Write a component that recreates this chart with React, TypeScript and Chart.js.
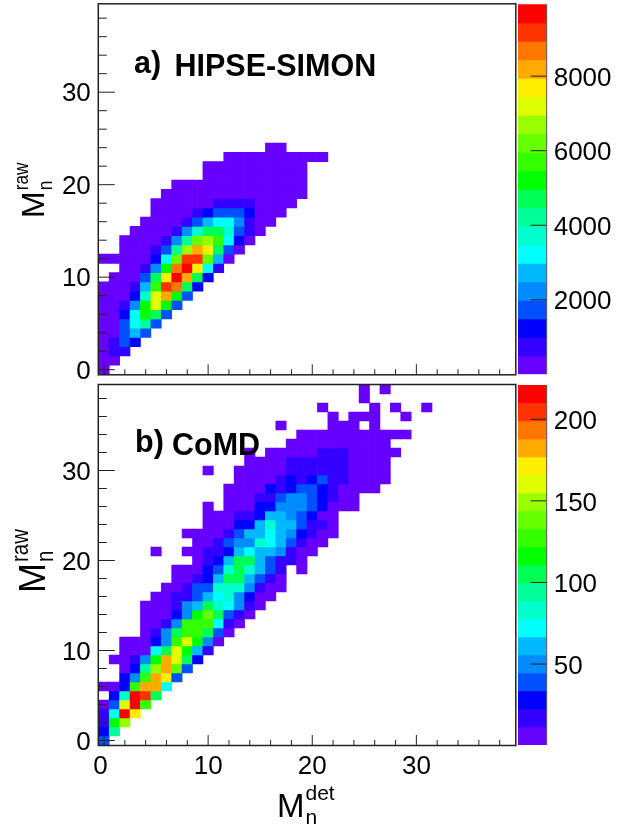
import { useEffect, useRef } from "react";
import { Chart, registerables } from "chart.js";
Chart.register(...registerables);

const FONT = '"Liberation Sans", Arial, sans-serif';

// colour levels, lowest to highest
const palette = [
  "#6600ff", "#3300ff", "#0000ff", "#0050ff", "#008cff", "#00b9ff", "#00ffff",
  "#00ffcc", "#00ff99", "#00ff55", "#00ff00", "#33ff00", "#66ff00", "#99ff00",
  "#ddff00", "#ffee00", "#ffaa00", "#ff7700", "#ff3300", "#ff0000",
];

const binTicks = [0, 2, 4, 6, 8, 10, 12, 14, 16, 18, 20, 22, 24, 26, 28, 30, 32, 34, 36, 38];
const zTicksA = [2000, 4000, 6000, 8000];
const zTicksB = [50, 100, 150, 200];
const zRangeA = [1, 9928];
const zRangeB = [0.4, 221];

// each row: [Mraw bin, first Mdet bin, counts...]
const rowsA = [
  [0, 0, 250],
  [1, 0, 250, 250],
  [2, 0, 250, 750, 750],
  [3, 0, 250, 750, 1750, 1250],
  [4, 0, 250, 250, 1750, 2750, 1750],
  [5, 0, 250, 250, 1750, 3250, 4250, 1750],
  [6, 0, 250, 250, 1250, 3250, 5250, 4750, 1750],
  [7, 0, 250, 250, 750, 2250, 5250, 7250, 5250, 1750],
  [8, 0, 250, 250, 250, 1250, 3750, 7250, 8250, 5250, 1750],
  [9, 0, 250, 250, 250, 750, 2750, 5750, 9250, 8750, 4750, 1250],
  [10, 1, 250, 250, 250, 1750, 4750, 7750, 9750, 8250, 4750, 1250],
  [11, 2, 250, 250, 750, 2250, 5250, 8750, 9750, 7750, 3250, 750],
  [12, 0, 250, 250, 250, 250, 250, 1250, 3250, 6250, 9250, 9250, 6250, 2750, 250],
  [13, 2, 250, 250, 250, 750, 1750, 4250, 6750, 8250, 7750, 4750, 1750, 250],
  [14, 2, 250, 250, 250, 250, 750, 2250, 4250, 6250, 6750, 5750, 3250, 1250, 250],
  [15, 3, 250, 250, 250, 250, 750, 2250, 3750, 4750, 4750, 3750, 1750, 750, 250],
  [16, 4, 250, 250, 250, 250, 750, 1750, 2750, 3250, 3250, 2250, 750, 250, 250],
  [17, 5, 250, 250, 250, 250, 750, 1250, 1750, 1750, 1750, 1250, 250, 250, 250],
  [18, 5, 250, 250, 250, 250, 250, 250, 750, 750, 750, 750, 250, 250, 250, 250],
  [19, 6, 250, 250, 250, 250, 250, 250, 250, 250, 250, 250, 250, 250, 250, 250],
  [20, 7, 250, 250, 250, 250, 250, 250, 250, 250, 250, 250, 250, 250, 250],
  [21, 10, 250, 250, 250, 250, 250, 250, 250, 250, 250, 250],
  [22, 10, 250, 250, 250, 250, 250, 250, 250, 250, 250, 250],
  [23, 12, 250, 250, 250, 250, 250, 250, 250, 250, 250, 250],
  [24, 16, 250, 250],
];

const rowsB = [
  [0, 0, 39],
  [1, 0, 28, 94],
  [2, 0, 17, 116, 149],
  [3, 0, 17, 72, 215, 171],
  [4, 0, 6, 39, 160, 215, 127],
  [5, 1, 28, 83, 215, 204, 105],
  [6, 0, 6, 6, 28, 127, 182, 182, 72],
  [7, 2, 28, 50, 127, 182, 171, 39],
  [8, 2, 6, 28, 94, 149, 182, 138, 39],
  [9, 1, 6, 6, 17, 50, 116, 182, 160, 105, 28],
  [10, 2, 6, 6, 6, 72, 105, 160, 116, 61, 17],
  [11, 2, 6, 6, 6, 28, 50, 127, 160, 116, 50, 6],
  [12, 4, 6, 17, 50, 105, 127, 127, 105, 39, 6],
  [13, 4, 6, 6, 17, 50, 127, 127, 127, 72, 17, 6],
  [14, 4, 6, 6, 6, 28, 50, 116, 138, 105, 39, 17, 6],
  [15, 4, 6, 6, 6, 17, 50, 61, 105, 83, 72, 50, 17, 6],
  [16, 5, 6, 6, 17, 17, 39, 61, 72, 83, 50, 28, 6, 6],
  [17, 6, 6, 6, 17, 39, 39, 83, 83, 83, 50, 17, 6, 6],
  [18, 7, 6, 6, 17, 28, 61, 105, 105, 61, 39, 17, 6],
  [19, 7, 6, 6, 6, 28, 39, 83, 105, 83, 61, 39, 17],
  [19, 19, 6],
  [20, 9, 6, 17, 28, 61, 105, 105, 61, 39, 17, 17, 6],
  [21, 5, 2],
  [21, 8, 6, 6, 17, 17, 28, 61, 72, 61, 61, 50, 17, 6, 6],
  [22, 9, 6, 6, 17, 39, 50, 50, 83, 72, 61, 39, 17, 6, 6],
  [23, 8, 6, 6, 6, 6, 17, 39, 61, 61, 72, 61, 50, 28, 17, 6, 6],
  [24, 10, 6, 6, 6, 28, 28, 61, 83, 61, 61, 39, 17, 17, 6],
  [25, 10, 6, 6, 6, 17, 17, 28, 61, 61, 50, 39, 28, 6, 6],
  [26, 10, 4],
  [26, 12, 6, 6, 6, 28, 28, 50, 50, 50, 39, 28, 6, 6, 6],
  [27, 12, 6, 6, 6, 17, 17, 39, 50, 50, 39, 28, 17, 6, 6],
  [28, 12, 6, 6, 6, 6, 28, 17, 28, 39, 39, 28, 17, 6, 6, 6, 6],
  [29, 13, 6, 6, 6, 6, 17, 28, 17, 28, 39, 17, 17, 6, 6, 6, 6],
  [30, 10, 3],
  [30, 13, 6, 6, 6, 6, 6, 17, 17, 17, 17, 17, 17, 6, 6, 6, 6],
  [31, 14, 6, 6, 6, 6, 17, 17, 17, 17, 17, 17, 6, 6, 6, 6],
  [32, 14, 4],
  [32, 16, 6, 6, 6, 6, 6, 17, 17, 17, 6, 6, 6, 6, 6],
  [33, 18, 6, 6, 6, 6, 6, 6, 6, 6, 6, 6],
  [34, 19, 6, 6, 6, 6, 6, 6, 6, 6, 6, 6, 6],
  [35, 17, 2],
  [35, 22, 4, 4, 4],
  [35, 26, 4],
  [36, 22, 4],
  [36, 24, 4, 4, 4],
  [36, 29, 2],
  [37, 21, 2],
  [37, 26, 3],
  [37, 28, 2],
  [37, 31, 2],
  [38, 25, 2],
  [39, 25, 2],
  [39, 27, 2],
];

const colourFor = (v: number, range: number[]) =>
  palette[Math.min(palette.length - 1, Math.floor(((v - range[0]) / (range[1] - range[0])) * palette.length))];

const flattenRows = (rows: number[][]) => {
  const cells: { x: number; y: number[]; v: number }[] = [];
  rows.forEach(([row, first, ...counts]) => {
    counts.forEach((v, k) => cells.push({ x: first + k, y: [row - 0.5, row + 0.5], v }));
  });
  return cells;
};

type MathLabel = { x: number; y: number; size: number; sup: string; small: number; squeeze: number; supDy: number; subDy: number; vertical: boolean };

function drawAxisTitle(ctx: CanvasRenderingContext2D, t: MathLabel) {
  ctx.save();
  ctx.translate(t.x, t.y);
  if (t.vertical) ctx.rotate(-Math.PI / 2);
  ctx.fillStyle = "#000";
  ctx.textAlign = "left";
  ctx.textBaseline = "alphabetic";
  ctx.font = `${t.size}px ${FONT}`;
  ctx.fillText("M", 0, 0);
  const w = ctx.measureText("M").width + 1;
  ctx.font = `${t.small}px ${FONT}`;
  ctx.translate(w, 0);
  ctx.scale(t.squeeze, 1);
  ctx.fillText(t.sup, 0, t.supDy);
  ctx.fillText("n", 0, t.subDy);
  ctx.restore();
}

type Note = { text: string; x: number; y: number };

const heatConfig = (
  rows: number[][],
  range: number[],
  opts: { top: number; xHeight: number; showX: boolean; notes: Note[]; titles: MathLabel[] },
) => {
  const cells = flattenRows(rows);
  return {
    type: "bar" as const,
    data: {
      datasets: [
        {
          data: cells as any,
          backgroundColor: cells.map((c) => colourFor(c.v, range)),
          borderWidth: 0,
          barPercentage: 1,
          categoryPercentage: 1,
          grouped: false,
        },
      ],
    },
    options: {
      animation: false as const,
      responsive: false,
      layout: { padding: { top: opts.top, left: 0, right: 4.7, bottom: 0 } },
      plugins: { legend: { display: false }, tooltip: { enabled: false } },
      scales: {
        x: {
          type: "linear" as const,
          min: -0.5,
          max: 39.5,
          offset: false,
          bounds: "data" as const,
          grid: { display: false, offset: false, drawTicks: false },
          border: { display: false },
          ticks: {
            display: opts.showX,
            autoSkip: false,
            maxRotation: 0,
            minRotation: 0,
            padding: 6,
            color: "#000",
            font: { family: FONT, size: 26 },
            // the reference sets its "0" slightly left of the tick
            callback: (v: any) => (Number(v) === 0 ? "0\u00a0" : Number(v) % 10 === 0 ? String(v) : ""),
          },
          afterBuildTicks: (s: any) => {
            s.ticks = binTicks.map((value) => ({ value }));
          },
          afterFit: (s: any) => {
            s.height = opts.xHeight;
            s.paddingLeft = s.paddingRight = 0;
          },
        },
        y: {
          type: "linear" as const,
          min: -0.5,
          max: 39.5,
          bounds: "data" as const,
          grid: { display: false, drawTicks: false },
          border: { display: false },
          ticks: {
            autoSkip: false,
            padding: 8,
            labelOffset: 2,
            color: "#000",
            font: { family: FONT, size: 26 },
            callback: (v: any) => (Number(v) % 10 === 0 ? String(v) : ""),
          },
          afterBuildTicks: (s: any) => {
            s.ticks = binTicks.map((value) => ({ value }));
          },
          afterFit: (s: any) => {
            s.width = 98.8;
            s.paddingTop = s.paddingBottom = 0;
          },
        },
      },
    },
    plugins: [
      {
        id: "frameAndNotes",
        afterDatasetsDraw(chart: any) {
          const { ctx, chartArea: a, scales } = chart;
          ctx.save();
          ctx.strokeStyle = "#222";
          ctx.lineWidth = 1.5;
          ctx.strokeRect(a.left - 0.5, a.top - 0.5, a.right - a.left + 1, a.bottom - a.top + 1);
          ctx.lineWidth = 1;
          ctx.strokeStyle = "#222";
          scales.x.ticks.forEach((t: any) => {
            const px = scales.x.getPixelForValue(t.value);
            const len = t.value % 10 === 0 ? 10 : 5;
            ctx.beginPath();
            ctx.moveTo(px, a.bottom);
            ctx.lineTo(px, a.bottom - len);
            ctx.stroke();
          });
          scales.y.ticks.forEach((t: any) => {
            const py = scales.y.getPixelForValue(t.value);
            const len = t.value % 10 === 0 ? 16 : 8;
            ctx.beginPath();
            ctx.moveTo(a.left, py);
            ctx.lineTo(a.left + len, py);
            ctx.stroke();
          });
          ctx.fillStyle = "#000";
          ctx.textAlign = "left";
          ctx.textBaseline = "alphabetic";
          ctx.font = `bold 30.5px ${FONT}`;
          opts.notes.forEach((n) => ctx.fillText(n.text, n.x, n.y));
          ctx.restore();
          opts.titles.forEach((t) => drawAxisTitle(ctx, t));
        },
      },
    ],
  };
};

const barConfig = (range: number[], zTicks: number[], top: number, height: number) => {
  const step = (range[1] - range[0]) / palette.length;
  const levels = palette.map((c, i) => ({ x: 0, y: [range[0] + i * step, range[0] + (i + 1) * step] }));
  return {
    type: "bar" as const,
    data: {
      datasets: [
        {
          data: levels as any,
          backgroundColor: palette,
          borderWidth: 0,
          barPercentage: 1,
          categoryPercentage: 1,
          grouped: false,
        },
      ],
    },
    options: {
      animation: false as const,
      responsive: false,
      layout: { padding: { top, left: 0, right: 0, bottom: 0 } },
      plugins: { legend: { display: false }, tooltip: { enabled: false } },
      scales: {
        x: {
          type: "linear" as const,
          min: -0.5,
          max: 0.5,
          offset: false,
          bounds: "data" as const,
          display: true,
          grid: { display: false, offset: false, drawTicks: false },
          border: { display: false },
          ticks: { display: false },
          afterFit: (s: any) => {
            s.height = height;
            s.paddingLeft = s.paddingRight = 0;
          },
        },
        y: {
          type: "linear" as const,
          position: "right" as const,
          min: range[0],
          max: range[1],
          bounds: "data" as const,
          grid: { display: false, drawTicks: false },
          border: { display: false },
          ticks: {
            autoSkip: false,
            padding: 7,
            labelOffset: 2.5,
            color: "#000",
            font: { family: FONT, size: 26 },
            callback: (v: any) => String(v),
          },
          afterBuildTicks: (s: any) => {
            s.ticks = zTicks.map((value) => ({ value }));
          },
          afterFit: (s: any) => {
            s.width = 91.3;
            s.paddingTop = s.paddingBottom = 0;
          },
        },
      },
    },
    plugins: [
      {
        id: "barTicks",
        afterDatasetsDraw(chart: any) {
          const { ctx, chartArea: a, scales } = chart;
          ctx.save();
          ctx.strokeStyle = "#222";
          ctx.lineWidth = 1;
          scales.y.ticks.forEach((t: any) => {
            const py = scales.y.getPixelForValue(t.value);
            ctx.beginPath();
            ctx.moveTo(a.right, py);
            ctx.lineTo(a.right - 16, py);
            ctx.stroke();
          });
          ctx.strokeStyle = "#555";
          ctx.beginPath();
          ctx.moveTo(a.right, a.top);
          ctx.lineTo(a.right, a.bottom);
          ctx.stroke();
          ctx.restore();
        },
      },
    ],
  };
};

const frames = [
  {
    left: 0, top: 0, width: 520, height: 384,
    build: () =>
      heatConfig(rowsA, zRangeA, {
        top: 4.3,
        xHeight: 9.7,
        showX: false,
        notes: [
          { text: "a)", x: 134, y: 73 },
          { text: "HIPSE-SIMON", x: 174.5, y: 76 },
        ],
        titles: [{ x: 44, y: 218, size: 32, sup: "raw", small: 21, squeeze: 0.82, supDy: -15.7, subDy: 7.7, vertical: true }],
      }),
  },
  {
    left: 0, top: 380, width: 520, height: 447,
    build: () =>
      heatConfig(rowsB, zRangeB, {
        top: 5,
        xHeight: 82,
        showX: true,
        notes: [
          { text: "b)", x: 135, y: 72 },
          { text: "CoMD", x: 172, y: 75 },
        ],
        titles: [
          { x: 45, y: 213, size: 36, sup: "raw", small: 24, squeeze: 0.85, supDy: -16.7, subDy: 7.7, vertical: true },
          { x: 277, y: 437, size: 33, sup: "det", small: 21, squeeze: 1, supDy: -17, subDy: 7, vertical: false },
        ],
      }),
  },
  { left: 518, top: 0, width: 120, height: 384, build: () => barConfig(zRangeA, zTicksA, 4.3, 9.7) },
  { left: 518, top: 380, width: 120, height: 447, build: () => barConfig(zRangeB, zTicksB, 5, 82) },
];

export default function App() {
  const refs = useRef<(HTMLCanvasElement | null)[]>([]);
  useEffect(() => {
    const charts = frames.map((f, i) => new Chart(refs.current[i] as HTMLCanvasElement, f.build() as any));
    return () => charts.forEach((c) => c.destroy());
  }, []);
  return (
    <div style={{ position: "absolute", left: 0, top: 0, width: 638, height: 827, overflow: "hidden", background: "#fff" }}>
      {frames.map((f, i) => (
        <canvas
          key={i}
          ref={(el) => {
            refs.current[i] = el;
          }}
          width={f.width}
          height={f.height}
          style={{ position: "absolute", left: f.left, top: f.top, width: f.width, height: f.height }}
        />
      ))}
    </div>
  );
}
